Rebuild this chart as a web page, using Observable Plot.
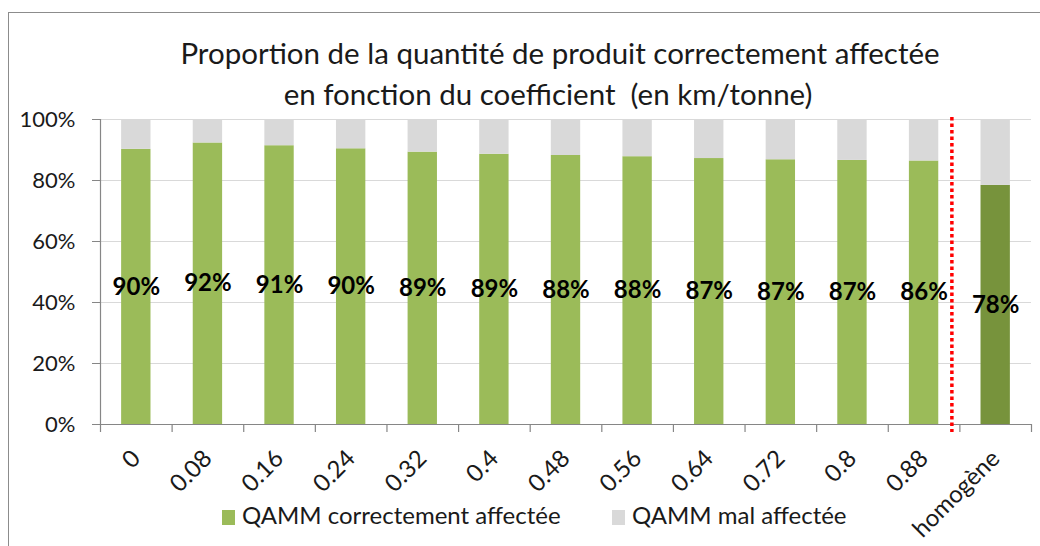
<!DOCTYPE html>
<html><head><meta charset="utf-8">
<script src="https://cdn.jsdelivr.net/npm/d3@7"></script>
<script src="https://cdn.jsdelivr.net/npm/@observablehq/plot@0.6"></script>
<style>
body{margin:0;background:#fff;font-family:Lato,sans-serif;color:#1a1a1a;}
#wrap{position:relative;width:1040px;height:546px;overflow:hidden;background:#fff;}
#frame{position:absolute;left:8px;top:12px;width:1100px;height:600px;border:1.5px solid #8c8c8c;box-sizing:border-box;}
.title{position:absolute;left:60px;width:1000px;text-align:center;font-size:29.5px;line-height:41px;color:#1a1a1a;white-space:nowrap;}
#chart{position:absolute;left:0;top:100px;}
.leg{position:absolute;top:501px;font-size:24px;line-height:28px;color:#1a1a1a;white-space:nowrap;}
.sw{display:inline-block;width:13px;height:15px;margin-right:7px;vertical-align:-1px;}
</style></head>
<body>
<div id="wrap">
  <div id="frame"></div>
  <div id="title"></div>
  <div id="chart"></div>
  <div id="legend"></div>
</div>
<script>
const categories = ["0","0.08","0.16","0.24","0.32","0.4","0.48","0.56","0.64","0.72","0.8","0.88","homogène"];
const correctValues = [0.902,0.923,0.914,0.904,0.893,0.886,0.882,0.878,0.872,0.868,0.866,0.864,0.784];
const seriesNames = ["QAMM correctement affectée","QAMM mal affectée"];
const seriesColors = ["#9BBB59","#D9D9D9"];
const homogeneColor = "#77933C";
const yTicks = [0,0.2,0.4,0.6,0.8,1];
const titleLines = ["Proportion de la quantité de produit correctement affectée","en fonction du coefficient\u00a0 (en km/tonne)"];

const titleEl = document.getElementById("title");
titleLines.forEach((t,i)=>{
  const d = document.createElement("div");
  d.className = "title";
  d.style.top = (32 + i*41) + "px";
  if (i===1) d.style.left = "48px";
  d.textContent = t;
  titleEl.appendChild(d);
});

const rows = [];
categories.forEach((c,i)=>{
  rows.push({cat:c, series:seriesNames[0], value:correctValues[i]});
  rows.push({cat:c, series:seriesNames[1], value:1-correctValues[i]});
});
const fillOf = d => d.series===seriesNames[1] ? seriesColors[1] : (d.cat==="homogène" ? homogeneColor : seriesColors[0]);

const W=1040, H=446, mL=100, mR=9, mT=19, mB=122;
const plotW = W-mL-mR, plotH = H-mT-mB;
const step = plotW/categories.length;
const axisCol = "#868686";
const pct = d3.format(".0%");

const chart = Plot.plot({
  width:W, height:H, marginLeft:mL, marginRight:mR, marginTop:mT, marginBottom:mB,
  style:{fontFamily:"Lato, sans-serif", color:"#1a1a1a", background:"transparent", overflow:"visible"},
  x:{domain:categories, paddingInner:0.59, paddingOuter:0.295, round:false, label:null},
  y:{domain:[0,1], label:null},
  color:{type:"identity"},
  marks:[
    Plot.ruleY(yTicks.filter(t=>t>0), {stroke:"#d9d9d9", strokeWidth:1.2}),
    Plot.barY(rows, {x:"cat", y:"value", fill:fillOf}),
    Plot.ruleY([0], {stroke:axisCol, strokeWidth:1.2}),
    Plot.frame({anchor:"left", stroke:axisCol, strokeWidth:1.2}),
    Plot.axisY({ticks:yTicks, tickFormat:pct, tickSize:8, tickPadding:17, fontSize:22, stroke:axisCol, fill:"#1a1a1a"}),
    Plot.axisX({tickSize:0, tickRotate:-45, tickPadding:30, fontSize:24, fill:"#1a1a1a", label:null}),
    Plot.ruleX(categories, {x:d=>d, dx:-step/2, insetTop:plotH-8, dy:8, stroke:axisCol, strokeWidth:1.2}),
    Plot.ruleX([categories[categories.length-1]], {x:d=>d, dx:step/2, insetTop:plotH-8, dy:8, stroke:axisCol, strokeWidth:1.2}),
    Plot.ruleX([categories[categories.length-1]], {x:d=>d, dx:-step/2-8, insetTop:-2, insetBottom:-8, stroke:"#ff0000", strokeWidth:3.5, strokeDasharray:"3.5,3"}),
    Plot.text(rows.filter(r=>r.series===seriesNames[0]), {x:"cat", y:d=>d.value/2, text:d=>pct(d.value), fontSize:24, fontWeight:"bold", fill:"#000"})
  ]
});
document.getElementById("chart").appendChild(chart);

const legend = document.getElementById("legend");
const legLeft = [222, 612];
seriesNames.forEach((s,i)=>{
  const el = document.createElement("div");
  el.className="leg"; el.style.left = legLeft[i]+"px";
  el.innerHTML = `<span class="sw" style="background:${seriesColors[i]}"></span>${s}`;
  legend.appendChild(el);
});
</script>
</body></html>
